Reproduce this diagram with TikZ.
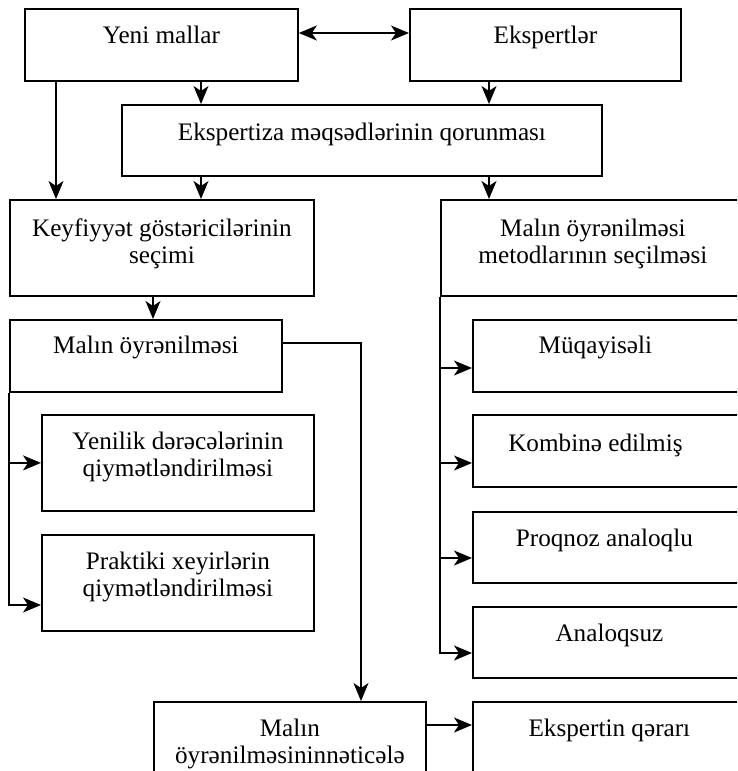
\documentclass[tikz,border=0pt]{standalone}
\usepackage{fontspec}
\setmainfont{Liberation Serif}
\usetikzlibrary{arrows.meta}
\newcommand{\fsz}{\fontsize{25.2}{26.5}\selectfont}
\begin{document}
\begin{tikzpicture}[x=1pt,y=-1pt,
  box/.style={draw, line width=1.8pt, rectangle, anchor=north west, inner sep=0pt},
  w273/.style={minimum width=273pt},
  txt/.style={font=\fsz, align=center, inner sep=0pt, anchor=north},
  conn/.style={line width=1.6pt},
  arr/.style={conn, -{Stealth[length=18pt,width=15pt,inset=5pt]}},
  darr/.style={conn, {Stealth[length=18pt,width=15pt,inset=5pt]}-{Stealth[length=18pt,width=15pt,inset=5pt]}}]
\useasboundingbox (0,0) rectangle (737,771);
\clip (0,0) rectangle (737,771);
% boxes
\node[box, w273, minimum height=72pt] (ym) at (24,8) {};
\node[box, minimum width=271pt, minimum height=72pt] (ek) at (409,8) {};
\node[box, minimum width=480pt, minimum height=71pt] (exq) at (121,104) {};
\node[box, minimum width=304pt, minimum height=96pt] (kf) at (9,199) {};
\node[box, minimum width=300pt, minimum height=96pt] (mt) at (440,199) {};
\node[box, minimum width=272pt, minimum height=72pt] (mo) at (9,319) {};
\node[box, w273, minimum height=72pt] (mq) at (472,319) {};
\node[box, minimum width=272pt, minimum height=96pt] (yn) at (41,414) {};
\node[box, w273, minimum height=72pt] (km) at (472,414) {};
\node[box, minimum width=272pt, minimum height=96pt] (pr) at (41,534) {};
\node[box, w273, minimum height=71pt] (pq) at (472,511) {};
\node[box, w273, minimum height=71pt] (an) at (472,606) {};
\node[box, minimum width=272pt, minimum height=96pt] (nt) at (153,701) {};
\node[box, w273, minimum height=96pt] (eq) at (472,701) {};
% texts
\node[txt] (tym) at ([yshift=-17pt]ym.north) {\strut Yeni mallar};
\node[txt] (tek) at ([yshift=-17pt]ek.north) {\strut Ekspertlər};
\node[txt] (texq) at ([yshift=-18pt]exq.north) {\strut Ekspertiza məqsədlərinin qorunması};
\node[txt] (tkf) at ([yshift=-19pt]kf.north) {\strut Keyfiyyət göstəricilərinin\\seçimi};
\node[txt] (tmt) at ([yshift=-19pt,xshift=2pt]mt.north) {\strut Malın öyrənilməsi\\metodlarının seçilməsi};
\node[txt] (tmo) at ([yshift=-16pt]mo.north) {\strut Malın öyrənilməsi};
\node[txt] (tmq) at ([yshift=-16pt,xshift=-14pt]mq.north) {\strut Müqayisəli};
\node[txt] (tyn) at ([yshift=-17pt]yn.north) {\strut Yenilik dərəcələrinin\\qiymətləndirilməsi};
\node[txt] (tkm) at ([yshift=-19pt,xshift=-14pt]km.north) {\strut Kombinə edilmiş};
\node[txt] (tpr) at ([yshift=-17pt]pr.north) {\strut Praktiki xeyirlərin\\qiymətləndirilməsi};
\node[txt] (tpq) at ([yshift=-17pt,xshift=-5pt]pq.north) {\strut Proqnoz analoqlu};
\node[txt] (tan) at ([yshift=-17pt]an.north) {\strut Analoqsuz};
\node[txt] (tnt) at ([yshift=-17pt]nt.north) {\strut Malın\\öyrənilməsininnəticələ};
\node[txt] (teq) at ([yshift=-17pt]eq.north) {\strut Ekspertin qərarı};
% helper coordinates
\coordinate (x56) at (56,0);
\coordinate (x153) at (153,0);
\coordinate (x201) at (201,0);
\coordinate (x361) at (361,0);
\coordinate (x489) at (489,0);
% connectors
\draw[darr] ([yshift=-25pt]ym.north east) -- ([yshift=-25pt]ek.north west);
\draw[arr] (ym.south -| x201) -- (exq.north -| x201);
\draw[arr] (ek.south -| x489) -- (exq.north -| x489);
\draw[arr] (ym.south -| x56) -- (kf.north -| x56);
\draw[arr] (exq.south -| x201) -- (kf.north -| x201);
\draw[arr] (exq.south -| x489) -- (mt.north -| x489);
\draw[arr] (kf.south -| x153) -- (mo.north -| x153);
\draw[arr] ([yshift=-24pt]mo.north east) -| (nt.north -| x361);
\draw[arr] (mo.south west) |- ([yshift=-71pt]pr.north west);
\draw[arr] (mo.south west |- yn.west) -- (yn.west);
\draw[arr] (mt.south west) |- ([yshift=-47pt]an.north west);
\draw[arr] ([yshift=-49pt]mq.north west -| mt.south west) -- ([yshift=-49pt]mq.north west);
\draw[arr] ([yshift=-49pt]km.north west -| mt.south west) -- ([yshift=-49pt]km.north west);
\draw[arr] ([yshift=-47pt]pq.north west -| mt.south west) -- ([yshift=-47pt]pq.north west);
\draw[arr] ([yshift=-24pt]nt.north east) -- ([yshift=-24pt]eq.north west);
\end{tikzpicture}
\end{document}
